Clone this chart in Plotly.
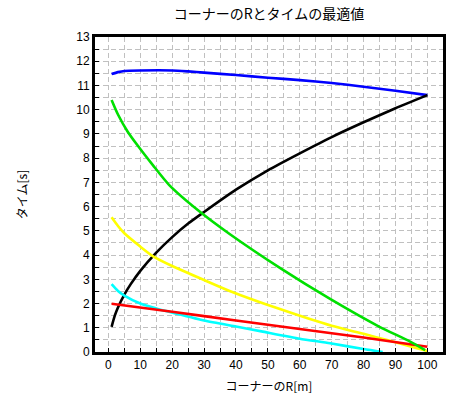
import plotly.graph_objects as go

# Corner radius R [m] vs time [s]
blue_x = [1, 3, 5, 10, 20, 25, 30, 40, 50, 60, 70, 80, 90, 100]
blue_y = [11.47, 11.55, 11.6, 11.62, 11.62, 11.58, 11.53, 11.43, 11.32, 11.22, 11.1, 10.95, 10.78, 10.6]

black_x = [1, 2, 3, 5, 7, 10, 15, 20, 25, 30, 40, 50, 60, 70, 80, 90, 100]
black_y = [1.04, 1.5, 1.84, 2.37, 2.8, 3.35, 4.1, 4.74, 5.3, 5.78, 6.7, 7.5, 8.2, 8.87, 9.48, 10.06, 10.6]

green_x = [1, 3, 6, 9, 14, 19, 28, 38, 54, 69.5, 85, 94.6, 99.3]
green_y = [10.4, 9.8, 9.1, 8.55, 7.7, 6.9, 5.86, 4.87, 3.45, 2.19, 1.04, 0.43, 0.08]

yellow_x = [1, 3, 5, 10, 14, 20, 30, 38, 54, 70, 80, 88, 95, 100]
yellow_y = [5.56, 5.2, 4.9, 4.35, 3.95, 3.55, 2.97, 2.52, 1.76, 1.08, 0.75, 0.47, 0.22, 0.04]

cyan_x = [1, 3, 5, 10, 15, 19, 30, 40, 48, 60, 69.5, 80, 86]
cyan_y = [2.8, 2.52, 2.33, 2.0, 1.8, 1.66, 1.3, 1.05, 0.85, 0.55, 0.36, 0.12, 0.0]

red_x = [1, 20, 40, 60, 80, 100]
red_y = [1.99, 1.66, 1.3, 0.95, 0.6, 0.22]

x_ticks = [0, 10, 20, 30, 40, 50, 60, 70, 80, 90, 100]
y_ticks = list(range(0, 14))

series = [
    (blue_x, blue_y, "#0000ff"),
    (black_x, black_y, "#000000"),
    (cyan_x, cyan_y, "#00ffff"),
    (yellow_x, yellow_y, "#ffff00"),
    (red_x, red_y, "#ff0000"),
    (green_x, green_y, "#00e000"),
]

fig = go.Figure()
for xs, ys, c in series:
    fig.add_trace(go.Scatter(x=xs, y=ys, mode="lines",
                             line=dict(color=c, width=2.6, shape="spline", smoothing=0.6),
                             showlegend=False, hoverinfo="skip"))

tick_font = dict(family="Liberation Sans", size=12, color="#000000")
axis_common = dict(showgrid=True, gridcolor="#c0c0c0", gridwidth=1, griddash="5px,3px",
                   showline=True, linecolor="#000000", linewidth=3, mirror=True,
                   ticks="inside", ticklen=4, tickcolor="#000000", tickwidth=1,
                   zeroline=False, tickfont=tick_font, automargin=False)

fig.update_layout(
    width=461, height=396,
    margin=dict(l=95, r=18, t=37, b=44),
    paper_bgcolor="#ffffff", plot_bgcolor="#ffffff",
    title=dict(text="コーナーのRとタイムの最適値", x=0.5, xref="paper", xanchor="center",
               y=1 - 14 / 396, yref="container", yanchor="middle", pad=dict(t=0, b=0),
               font=dict(family="Noto Sans CJK JP", size=14, color="#000000")),
    xaxis=dict(range=[-4.2, 104.9], tickvals=x_ticks, ticktext=[str(v) for v in x_ticks],
               minor=dict(dtick=5, tick0=0, showgrid=True, gridcolor="#c0c0c0", griddash="5px,3px",
                          ticks="inside", ticklen=4, tickcolor="#000000"),
               title=dict(text="コーナーのR[m]", standoff=12,
                          font=dict(family="Noto Sans CJK JP", size=12, color="#000000")),
               **axis_common),
    yaxis=dict(range=[0, 13], tickvals=y_ticks, ticktext=[str(v) for v in y_ticks],
               minor=dict(dtick=0.5, tick0=0, showgrid=True, gridcolor="#c0c0c0", griddash="5px,3px",
                          ticks="inside", ticklen=4, tickcolor="#000000"),
               title=dict(text="タイム[s]", standoff=47,
                          font=dict(family="Noto Sans CJK JP", size=12, color="#000000")),
               **axis_common),
)

# Remove the page's default body margin so the figure fills the window exactly.
fig.write_html("out.html",
               config={"displayModeBar": False, "staticPlot": True},
               post_script="document.body.style.margin='0';document.body.style.overflow='hidden';")
